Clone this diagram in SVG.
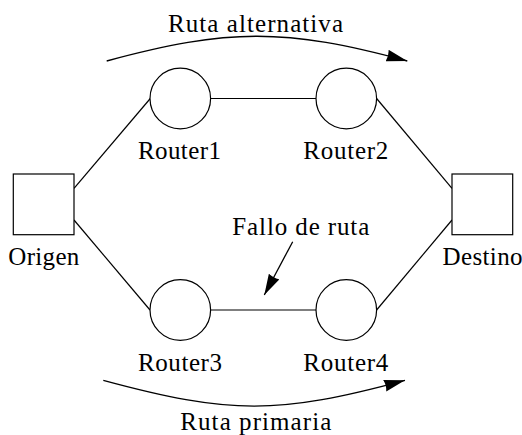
<svg xmlns="http://www.w3.org/2000/svg" width="522" height="435" viewBox="0 0 522 435">
  <style>
    .node { fill: #ffffff; stroke: #000000; stroke-width: 1.2; }
    .link { fill: none; stroke: #000000; stroke-width: 1.2; }
    .route { fill: none; stroke: #000000; stroke-width: 1.3; marker-end: url(#tip); }
    text { font-family: "Liberation Serif", "Times New Roman", serif; font-size: 25px; fill: #000000; text-anchor: middle; }
  </style>
  <defs>
    <marker id="tip" viewBox="0 -6 21 12" refX="21" refY="0" markerWidth="21" markerHeight="12" markerUnits="userSpaceOnUse" orient="auto">
      <path d="M0,-6 L21,0 L0,6 Q2,0 0,-6 Z" fill="#000000"/>
    </marker>
  </defs>

  <!-- links between hosts and routers -->
  <g id="connectors">
    <line class="link" x1="74" y1="188.3" x2="150.3" y2="98.5"/>
    <line class="link" x1="74" y1="220" x2="150" y2="310"/>
    <line class="link" x1="210.6" y1="98.5" x2="316" y2="98.5"/>
    <line class="link" x1="210.6" y1="310" x2="316" y2="310"/>
    <line class="link" x1="376.6" y1="98.5" x2="452" y2="188.3"/>
    <line class="link" x1="376.6" y1="310" x2="452" y2="220"/>
    <!-- route arrows and failure pointer -->
    <path class="route" d="M106.7,61 C229,28 285,28 407.3,61"/>
    <path class="route" d="M103.3,380.3 C230,414.6 278,414.6 405,380.3"/>
    <line class="route" x1="292.7" y1="241.7" x2="264.3" y2="295"/>
  </g>

  <g id="origen">
    <rect class="node" x="13.3" y="174" width="60.7" height="60.7"/>
    <text x="43.8" y="265" textLength="71">Origen</text>
  </g>
  <g id="destino">
    <rect class="node" x="452" y="174" width="60.7" height="60.7"/>
    <text x="482.5" y="265" textLength="80">Destino</text>
  </g>
  <g id="router1">
    <circle class="node" cx="180.3" cy="98.5" r="30.3"/>
    <text x="179.4" y="159" textLength="83">Router1</text>
  </g>
  <g id="router2">
    <circle class="node" cx="346.3" cy="98.5" r="30.3"/>
    <text x="345.8" y="159" textLength="85">Router2</text>
  </g>
  <g id="router3">
    <circle class="node" cx="180.3" cy="310" r="30.3"/>
    <text x="180" y="370.7" textLength="84">Router3</text>
  </g>
  <g id="router4">
    <circle class="node" cx="346.3" cy="310" r="30.3"/>
    <text x="345.8" y="370.7" textLength="85">Router4</text>
  </g>

  <g id="labels">
    <text x="255.5" y="31.7" textLength="175">Ruta alternativa</text>
    <text x="300.8" y="235" textLength="137">Fallo de ruta</text>
    <text x="255.8" y="430" textLength="151">Ruta primaria</text>
  </g>
</svg>
